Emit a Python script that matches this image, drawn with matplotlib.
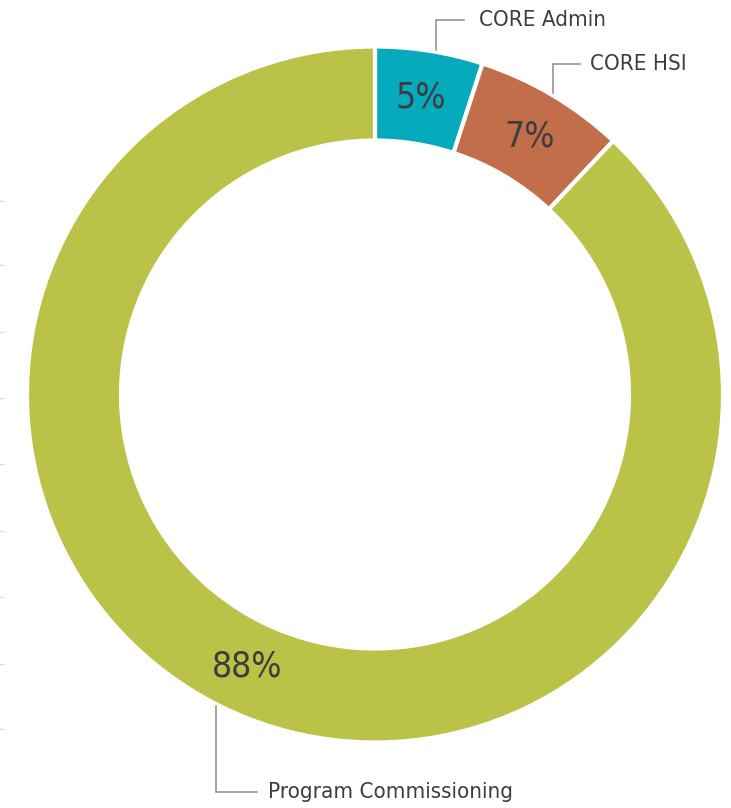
import matplotlib.pyplot as plt
import numpy as np

# Budget split
categories = ["CORE Admin", "CORE HSI", "Program Commissioning"]
shares = [5, 7, 88]
pct_labels = ["5%", "7%", "88%"]
colors = ["#05abbd", "#c26e4b", "#bac348"]

W, H = 731, 808
cx, cy = 375, H - 394.5
R_OUT = 348
RING = 94

# angles (deg) where the percent text and the leader lines sit
label_angles = [81.2, 59.0, 244.8]
leader_angles = [80.0, 59.4, 243.0]
leader_ends = [(464, 20), (580, 64), (257, 792)]
name_x = [479, 590, 268]

TXT = "#3d3d3d"
LEAD = "#8c8c8c"
plt.rcParams['font.family'] = ["DejaVu Sans"]
plt.rcParams['font.stretch'] = "condensed"


def main():
    fig = plt.figure(figsize=(W / 100, H / 100), dpi=100)
    ax = fig.add_axes([0, 0, 1, 1])

    ax.pie(shares, colors=colors, startangle=90, counterclock=False,
           center=(cx, cy), radius=R_OUT,
           wedgeprops=dict(width=RING, edgecolor="white", linewidth=3))
    ax.set_xlim(0, W)
    ax.set_ylim(0, H)
    ax.set_aspect("equal")
    ax.axis("off")

    r_mid = R_OUT - RING / 2
    for lab, ang in zip(pct_labels, label_angles):
        a = np.deg2rad(ang)
        ax.text(cx + r_mid * np.cos(a), cy + r_mid * np.sin(a), lab,
                ha="center", va="center", fontsize=25.5, color=TXT,
                fontstretch="condensed")

    # leader lines + category names
    for name, ang, (ex, ey), tx in zip(categories, leader_angles,
                                       leader_ends, name_x):
        a = np.deg2rad(ang)
        r0 = R_OUT + 2
        x0, y0 = cx + r0 * np.cos(a), cy + r0 * np.sin(a)
        ax.plot([x0, x0, ex], [y0, H - ey, H - ey], color=LEAD, lw=1.1,
                solid_joinstyle="miter")
        ax.text(tx, H - ey, name, ha="left", va="center",
                fontsize=16, color=TXT, fontstretch="condensed")

    # faint tick remnants on the left edge
    for ty in [201, 265, 332, 398, 464, 531, 597, 664, 729]:
        ax.plot([0, 3], [H - ty, H - ty], color="#dddddd", lw=1)

    fig.savefig("out.png", dpi=100)


if __name__ == "__main__":
    main()
